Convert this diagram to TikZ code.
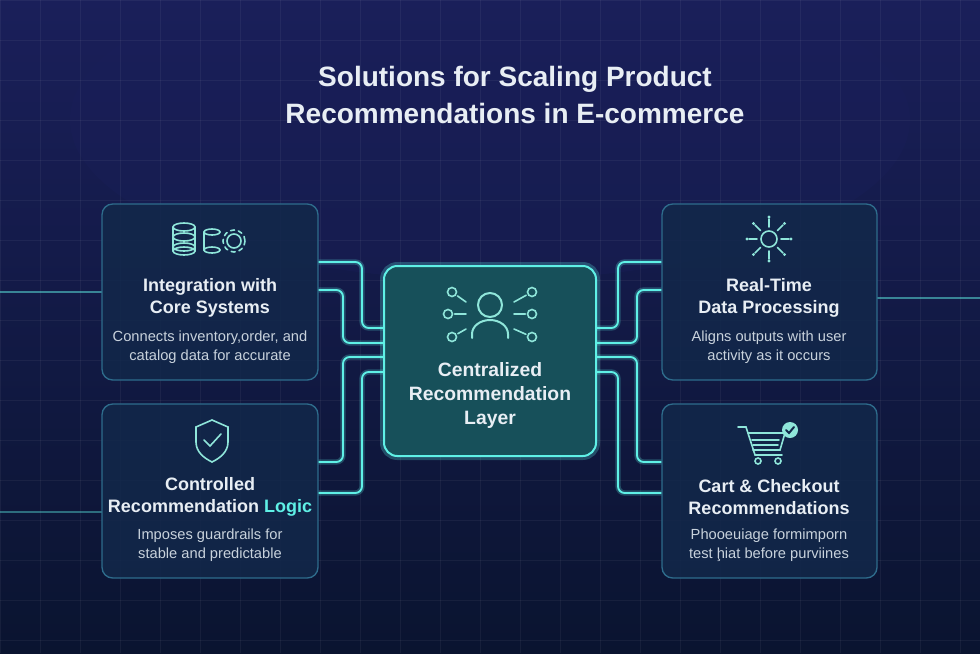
\documentclass[tikz,border=0pt]{standalone}
\usepackage{fontspec}
\setmainfont{Liberation Sans}
\usetikzlibrary{calc}
\definecolor{bgA}{HTML}{0A1430}
\definecolor{bgB}{HTML}{1A1F5A}
\definecolor{cardF}{HTML}{12284A}
\definecolor{cardD}{HTML}{2E6C8C}
\definecolor{glow}{HTML}{5FF0E6}
\definecolor{cenF}{HTML}{17505A}
\definecolor{txt}{HTML}{E8EEF4}
\definecolor{sub}{HTML}{C8D2DC}
\definecolor{icon}{HTML}{8FE6DA}
\tikzset{
 card/.style={draw=cardD, line width=1pt, fill=cardF, fill opacity=0.85, rounded corners=8pt},
 wire/.style={draw=glow, line width=1.4pt, rounded corners=5pt},
 wglow/.style={draw=glow, line width=4pt, opacity=0.25, rounded corners=5pt},
 ttl/.style={text=txt, font=\fontsize{13.5}{16}\selectfont\bfseries, align=center},
 desc/.style={text=sub, font=\fontsize{11}{14.5}\selectfont, align=center},
 ic/.style={draw=icon, line width=1.2pt, line cap=round}
}
\begin{document}
\begin{tikzpicture}[x=0.75pt,y=-0.75pt]
\useasboundingbox (0,0) rectangle (980,653);
\shade[top color=bgB, bottom color=bgA] (0,0) rectangle (980,653);
\fill[bgB, opacity=0.35] (490,120) ellipse (420 and 160);
\foreach \x in {0,40,...,980} \draw[white, opacity=0.05, line width=0.5pt] (\x,0) -- (\x,653);
\foreach \y in {0,40,...,653} \draw[white, opacity=0.05, line width=0.5pt] (0,\y) -- (980,\y);
% title
\node[text=txt, font=\fontsize{21}{28}\selectfont\bfseries, align=center] (title) at (515,95) {Solutions for Scaling Product\\Recommendations in E-commerce};
% outer glow lines
\coordinate (eL1) at (0,292); \coordinate (eL2) at (0,512);
\coordinate (eR1) at (980,298);
\draw[glow, opacity=0.5, line width=1pt] (eL1) -- (102,292);
\draw[glow, opacity=0.4, line width=1pt] (eL2) -- (102,512);
\draw[glow, opacity=0.5, line width=1pt] (877,298) -- (eR1);
% cards
\node[card, minimum width=216*0.75pt, minimum height=176*0.75pt] (tl) at (210,292) {};
\node[card, minimum width=216*0.75pt, minimum height=174*0.75pt] (bl) at (210,491) {};
\node[card, minimum width=215*0.75pt, minimum height=176*0.75pt] (tr) at (769.5,292) {};
\node[card, minimum width=215*0.75pt, minimum height=174*0.75pt] (br) at (769.5,491) {};
% wires
\foreach \s in {wglow,wire}{
 \draw[\s] (384,328) -| (362,262) -- (tl.east |- 0,262);
 \draw[\s] (384,343) -| (343,290) -- (tl.east |- 0,290);
 \draw[\s] (384,357) -| (343,462) -- (bl.east |- 0,462);
 \draw[\s] (384,372) -| (362,493) -- (bl.east |- 0,493);
 \draw[\s] (596,328) -| (618,262) -- (tr.west |- 0,262);
 \draw[\s] (596,343) -| (637,290) -- (tr.west |- 0,290);
 \draw[\s] (596,357) -| (637,462) -- (br.west |- 0,462);
 \draw[\s] (596,372) -| (618,493) -- (br.west |- 0,493);
}
% center
\draw[glow, line width=6pt, opacity=0.25, rounded corners=10pt] (384,266) rectangle (596,456);
\node[draw=glow, line width=1.5pt, fill=cenF, rounded corners=10pt, minimum width=212*0.75pt, minimum height=190*0.75pt] (c) at (490,361) {};
\node[ttl, font=\fontsize{14.5}{18}\selectfont\bfseries] (ct) at (490,395) {Centralized\\Recommendation\\Layer};
% center icon
\draw[ic, line width=1.5pt] (490,305) circle (12);
\draw[ic, line width=1.5pt] (472,338) -- (472,334) arc (180:360:18 and 14) -- (508,338);
\foreach \a/\b/\p/\q in {452/292/466/302, 448/314/466/314, 452/337/466/329, 532/292/514/302, 532/314/514/314, 532/337/514/329}{
 \draw[ic] (\a,\b) circle (4.5); \draw[ic] (\p,\q) -- ($(\a,\b)!5pt!(\p,\q)$);}
% TL
\node[ttl] (t1) at (210,298) {Integration with\\Core Systems};
\node[desc] (d1) at (210,347) {Connects inventory,order, and\\catalog data for accurate};
\foreach \yy in {227,237,247} \draw[ic] (184,\yy) ellipse (11 and 4);
\draw[ic] (173,227) -- (173,251); \draw[ic] (195,227) -- (195,251);
\draw[ic] (184,251) ellipse (11 and 4);
\draw[ic] (212,232) ellipse (8 and 3); \draw[ic] (204,232) -- (204,250); \draw[ic] (212,250) ellipse (8 and 3);
\draw[ic] (234,241) circle (7); \draw[ic, dashed] (234,241) circle (11);
% BL
\draw[ic] (212,420) -- (228,427) -- (228,442) .. controls (228,452) and (220,458) .. (212,462) .. controls (204,458) and (196,452) .. (196,442) -- (196,427) -- cycle;
\draw[ic] (204,440) -- (210,446) -- (221,434);
\node[ttl] (t2) at (210,497) {Controlled\\Recommendation \textcolor{glow}{Logic}};
\node[desc] (d2) at (210,545) {Imposes guardrails for\\stable and predictable};
% TR
\draw[ic] (769,239) circle (8);
\foreach \ang in {0,45,...,315}{ \draw[ic] ($(769,239)+(\ang:12)$) -- ($(769,239)+(\ang:20)$); \fill[icon] ($(769,239)+(\ang:22)$) circle (1.6);}
\node[ttl] (t3) at (769,298) {Real-Time\\Data Processing};
\node[desc] (d3) at (769,347) {Aligns outputs with user\\activity as it occurs};
% BR
\draw[ic] (738,427) -- (746,427) -- (755,455) -- (782,455);
\draw[ic] (748,433) -- (785,433) -- (780,450) -- (753,450);
\draw[ic] (752,440) -- (779,440); \draw[ic] (753,445) -- (778,445);
\draw[ic] (758,461) circle (3); \draw[ic] (778,461) circle (3);
\fill[icon] (790,430) circle (8);
\draw[cardF, line width=1.5pt, line cap=round] (786,430) -- (789,433) -- (794,427);
\node[ttl] (t4) at (769,497) {Cart \& Checkout\\Recommendations};
\node[desc] (d4) at (769,545) {Phooeuiage formimporn\\test ḩiat before purviines};
\end{tikzpicture}
\end{document}
